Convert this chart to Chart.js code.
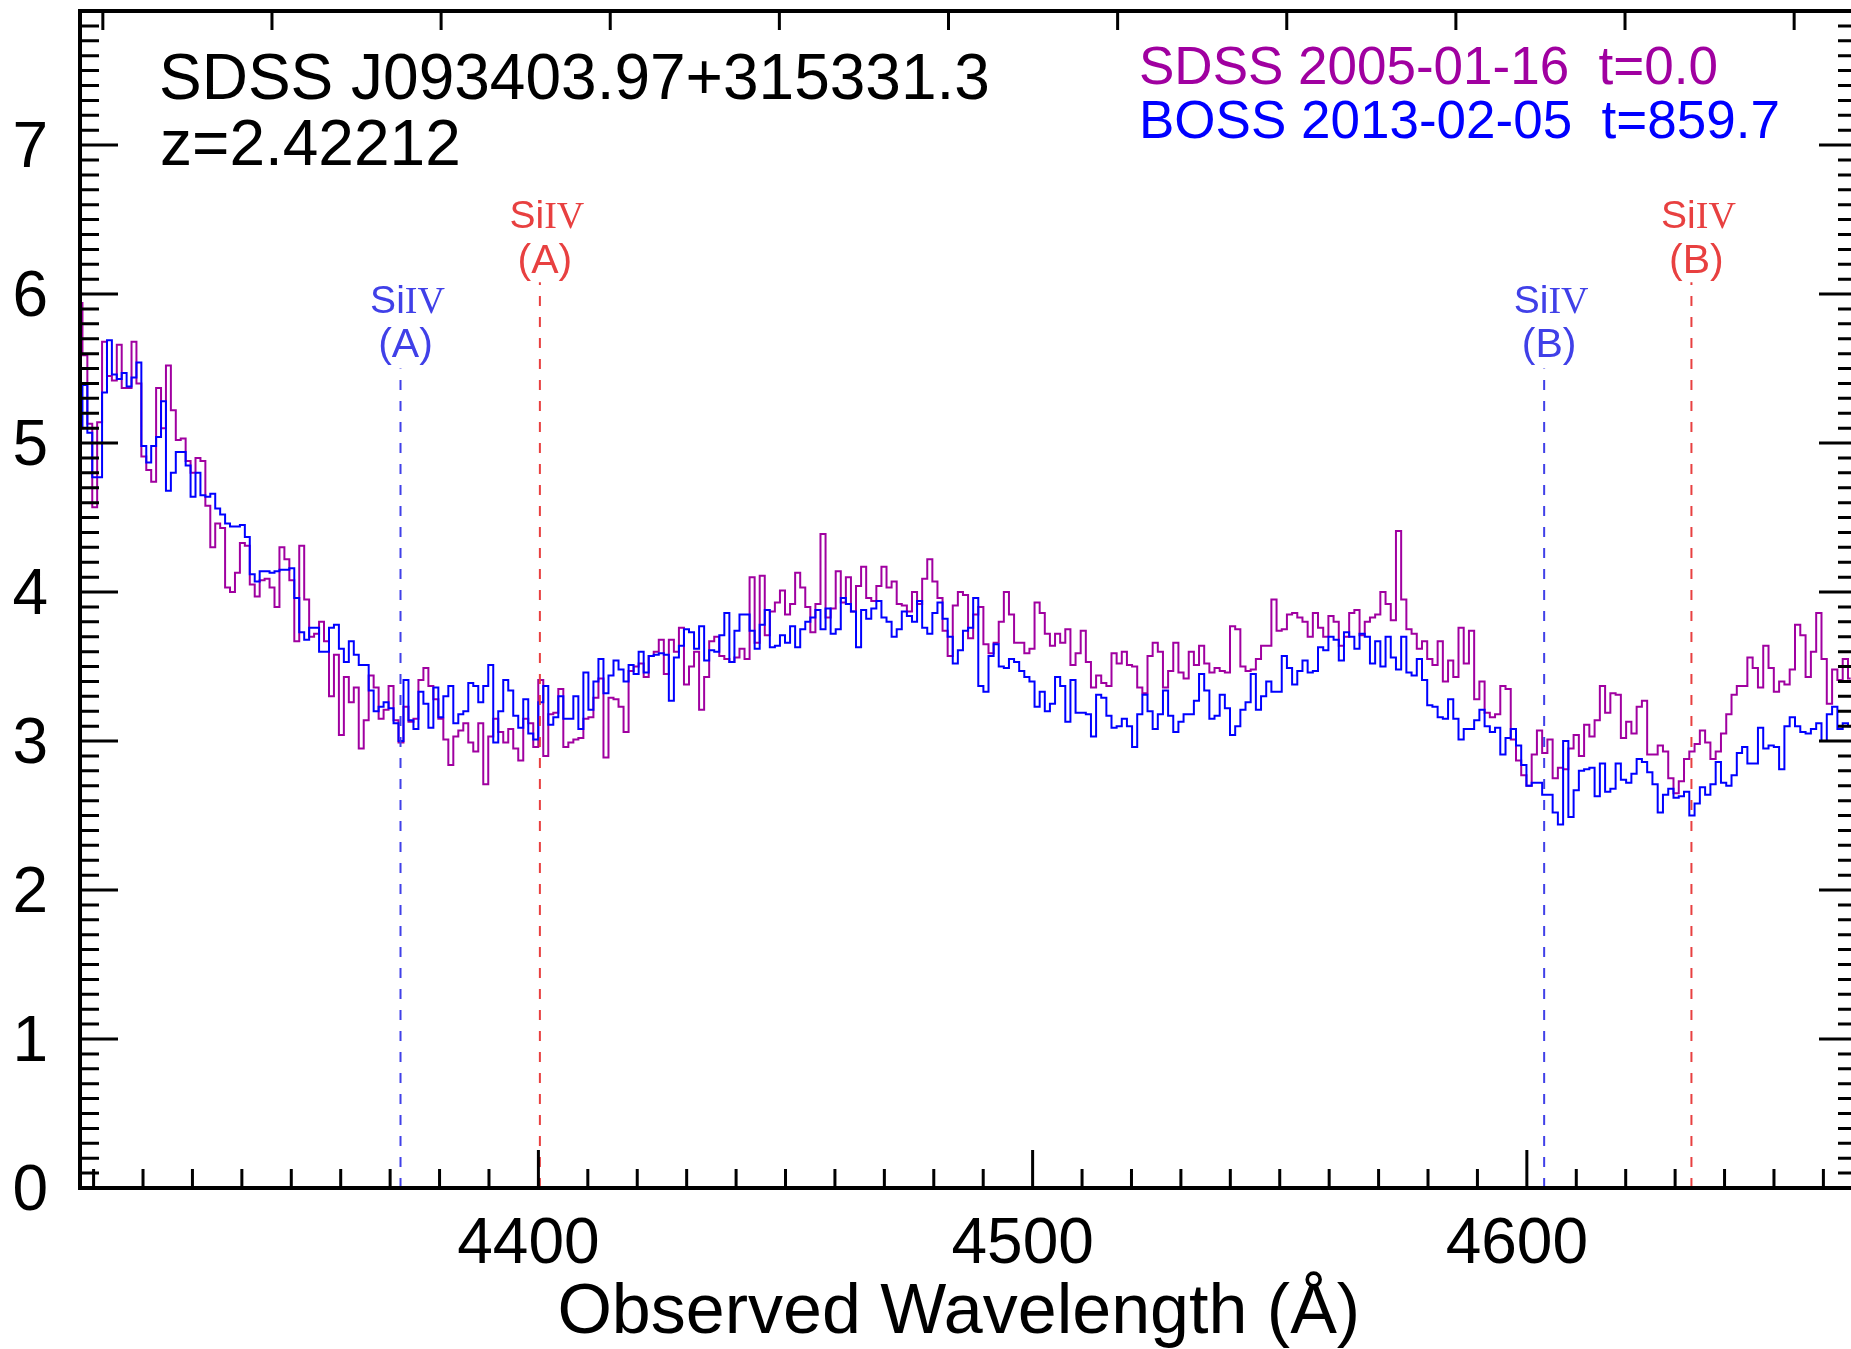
<!DOCTYPE html>
<html>
<head>
<meta charset="utf-8">
<title>SDSS J093403.97+315331.3</title>
<script src="https://cdn.jsdelivr.net/npm/chart.js@4.4.1/dist/chart.umd.min.js"></script>
<style>
  html, body { margin: 0; padding: 0; background: #ffffff; overflow: hidden; }
  #wrap { width: 1860px; height: 1349px; }
</style>
</head>
<body>
<div id="wrap"><canvas id="spec" width="1860" height="1349"></canvas></div>
<script>
// quasar and spectral grid
var redshift = 2.42212;
var logLam0 = 3.6342;   // log10 of the first pixel wavelength
var dLogLam = 0.0001;   // SDSS/BOSS pixel size in log10(lambda)

// flux per pixel
var sdssFlux = [
  5.94, 5.59, 5.13, 4.57, 5.14, 5.68, 5.45, 5.42, 5.66, 5.37, 5.37, 5.68, 5.40, 4.91, 4.82, 4.74,
  5.37, 5.10, 5.52, 5.22, 5.02, 5.03, 4.88, 4.80, 4.90, 4.88, 4.58, 4.30, 4.46, 4.43, 4.03, 4.00,
  4.13, 4.33, 4.31, 4.05, 3.97, 4.08, 4.09, 4.03, 3.90, 4.30, 4.22, 4.08, 3.67, 4.31, 3.95, 3.70,
  3.72, 3.80, 3.67, 3.30, 3.58, 3.04, 3.43, 3.26, 3.36, 2.95, 3.14, 3.44, 3.36,
  3.15, 3.21, 3.37, 3.14, 2.99, 3.23, 3.13, 3.15, 3.41, 3.49, 3.37, 3.28, 3.15, 3.01, 2.84, 3.03,
  3.07, 3.12, 2.99, 2.93, 3.12, 2.71, 3.03, 3.15, 3.06, 2.99, 3.08, 2.95, 2.87, 3.15, 3.12, 2.96,
  3.41, 2.90, 3.18, 3.19, 3.35, 2.96, 2.99, 3.01, 3.02, 3.15, 3.16, 3.29, 3.42, 2.89, 3.29, 3.28,
  3.23, 3.06, 3.47, 3.50, 3.52, 3.43, 3.57, 3.60, 3.68, 3.45,
  3.68, 3.60, 3.76, 3.38, 3.50, 3.60, 3.21, 3.43, 3.67, 3.70, 3.57, 3.55, 3.53, 3.56, 3.62, 3.55,
  4.10, 3.66, 4.11, 3.71, 3.87, 3.93, 4.01, 3.85, 3.92, 4.13, 4.03, 3.90, 3.73, 3.92, 4.39, 3.83,
  3.89, 4.14, 3.93, 4.10, 3.87, 4.04, 4.17, 3.96, 3.94, 4.04, 4.17, 4.03, 4.07, 3.92, 3.91, 3.87,
  4.00, 3.92, 4.09, 4.22, 4.07, 3.96, 3.74, 3.57, 3.91, 4.00,
  3.98, 3.69, 3.85, 3.90, 3.65, 3.59, 3.66, 3.80, 4.00, 3.85, 3.66, 3.66, 3.59, 3.62, 3.93, 3.86,
  3.72, 3.64, 3.72, 3.66, 3.75, 3.51, 3.59, 3.74, 3.53, 3.36, 3.44, 3.39, 3.37, 3.59, 3.52, 3.60,
  3.51, 3.50, 3.36, 3.32, 3.57, 3.66, 3.60, 3.36, 3.47, 3.66, 3.46, 3.42, 3.60, 3.51, 3.64, 3.52,
  3.46, 3.49, 3.47, 3.46, 3.77, 3.75, 3.50,
  3.47, 3.48, 3.55, 3.64, 3.64, 3.95, 3.74, 3.75, 3.85, 3.86, 3.83, 3.80, 3.70, 3.86, 3.76, 3.70,
  3.84, 3.80, 3.64, 3.70, 3.86, 3.88, 3.71, 3.80, 3.83, 3.85, 4.00, 3.92, 3.81, 4.41, 3.95, 3.75,
  3.72, 3.62, 3.67, 3.55, 3.51, 3.67, 3.40, 3.54, 3.43, 3.76, 3.52, 3.74, 3.28, 3.40, 3.19, 3.16,
  3.18, 3.37, 3.35, 3.01, 2.87, 2.77, 2.70,
  2.91, 3.07, 2.92, 3.01, 2.75, 2.82, 2.81, 2.95, 3.04, 2.90, 3.11, 3.03, 3.14, 3.37, 3.19, 3.32,
  3.31, 3.02, 3.13, 3.05, 3.23, 3.27, 2.91, 2.91, 2.97, 2.93, 2.75, 2.65, 2.73, 2.88, 2.93, 2.98,
  3.07, 2.99, 2.88, 2.93, 3.05, 3.18, 3.31, 3.37, 3.37, 3.56, 3.49, 3.36, 3.64, 3.49, 3.33, 3.40,
  3.38, 3.48, 3.78, 3.71, 3.43, 3.60, 3.86, 3.55, 3.25, 3.48, 3.41, 3.55, 3.42
];
var bossFlux = [
  5.10, 5.39, 5.07, 4.77, 4.77, 5.34, 5.69, 5.46, 5.43, 5.47, 5.38, 5.44, 5.54, 4.98, 4.87, 4.98,
  5.04, 5.28, 4.68, 4.80, 4.94, 4.94, 4.85, 4.64, 4.80, 4.65, 4.64, 4.66, 4.56, 4.52, 4.46, 4.44,
  4.44, 4.45, 4.37, 4.12, 4.07, 4.14, 4.14, 4.13, 4.14, 4.15, 4.15, 4.16, 3.96, 3.73, 3.68, 3.76,
  3.76, 3.60, 3.60, 3.76, 3.78, 3.62, 3.53, 3.67, 3.58, 3.51, 3.51, 3.34, 3.20,
  3.23, 3.26, 3.22, 3.12, 3.00, 3.41, 3.14, 3.08, 3.33, 3.25, 3.09, 3.36, 3.16, 3.30, 3.37, 3.12,
  3.18, 3.20, 3.39, 3.37, 3.26, 3.37, 3.51, 2.99, 3.20, 3.41, 3.34, 3.17, 3.09, 3.28, 3.05, 3.01,
  3.26, 3.37, 3.11, 3.16, 3.30, 3.15, 3.15, 3.30, 3.08, 3.46, 3.21, 3.40, 3.55, 3.32, 3.44, 3.54,
  3.48, 3.40, 3.51, 3.45, 3.60, 3.46, 3.57, 3.58, 3.59, 3.58,
  3.27, 3.56, 3.64, 3.75, 3.73, 3.62, 3.77, 3.54, 3.61, 3.60, 3.71, 3.86, 3.53, 3.74, 3.85, 3.85,
  3.74, 3.62, 3.78, 3.88, 3.63, 3.64, 3.71, 3.66, 3.77, 3.63, 3.75, 3.80, 3.83, 3.88, 3.75, 3.89,
  3.72, 3.75, 3.96, 3.92, 3.87, 3.63, 3.88, 3.82, 3.89, 3.94, 3.83, 3.80, 3.70, 3.75, 3.87, 3.84,
  3.80, 3.94, 3.76, 3.72, 3.86, 3.93, 3.82, 3.70, 3.52, 3.61,
  3.74, 3.76, 3.96, 3.37, 3.33, 3.57, 3.65, 3.50, 3.49, 3.55, 3.53, 3.47, 3.43, 3.40, 3.23, 3.33,
  3.20, 3.25, 3.43, 3.37, 3.13, 3.41, 3.19, 3.19, 3.18, 3.03, 3.31, 3.29, 3.17, 3.09, 3.10, 3.15,
  3.10, 2.96, 3.18, 3.31, 3.20, 3.08, 3.18, 3.34, 3.17, 3.06, 3.13, 3.18, 3.18, 3.27, 3.45, 3.34,
  3.15, 3.17, 3.31, 3.22, 3.04, 3.10, 3.21,
  3.26, 3.45, 3.21, 3.30, 3.40, 3.33, 3.33, 3.57, 3.49, 3.38, 3.47, 3.54, 3.46, 3.47, 3.63, 3.61,
  3.70, 3.68, 3.54, 3.73, 3.70, 3.62, 3.72, 3.70, 3.52, 3.67, 3.50, 3.70, 3.56, 3.48, 3.70, 3.46,
  3.44, 3.55, 3.41, 3.24, 3.23, 3.16, 3.15, 3.28, 3.15, 3.01, 3.08, 3.08, 3.14, 3.21, 3.10, 3.06,
  3.09, 2.91, 3.02, 3.08, 2.97, 2.84, 2.70,
  2.72, 2.72, 2.64, 2.64, 2.52, 2.44, 3.00, 2.49, 2.67, 2.80, 2.81, 2.82, 2.63, 2.85, 2.66, 2.68,
  2.85, 2.74, 2.72, 2.78, 2.88, 2.86, 2.79, 2.71, 2.52, 2.64, 2.68, 2.62, 2.63, 2.66, 2.50, 2.58,
  2.69, 2.64, 2.71, 2.86, 2.72, 2.70, 2.77, 2.92, 2.96, 2.85, 2.85, 3.09, 2.95, 2.97, 2.96, 2.81,
  3.10, 3.16, 3.10, 3.06, 3.05, 3.08, 3.12, 3.00, 3.18, 3.23, 3.08, 3.12, 3.10
];

// axes
var xTickLabels = [4400, 4500, 4600];
var yTickLabels = [0, 1, 2, 3, 4, 5, 6, 7];
var restTicks = [1260, 1270, 1280, 1290, 1300, 1310, 1320, 1330, 1340, 1350, 1360]; // top axis, rest frame

// Si IV absorption systems (blue / red member of the doublet)
var siivWave = [4372.1, 4400.3, 4603.5, 4633.3];
var siivSystem = ['(A)', '(A)', '(B)', '(B)'];
var siivMember = ['blue', 'red', 'blue', 'red'];

var SANS = '"Liberation Sans", Arial, Helvetica, sans-serif';
var SERIF = '"Liberation Serif", "Times New Roman", serif';
var MAGENTA = '#a000a0';
var BLUE = '#0000ff';
var LINE_COL = { blue: 'rgb(64,64,232)', red: 'rgb(232,64,64)' };
var LINE_TOP = { blue: 5.50, red: 6.08 };      // where the dashed marker stops
var LABEL_Y = { blue: [5.87, 5.58], red: [6.445, 6.14] };

var wave = sdssFlux.map(function (f, i) { return Math.pow(10, logLam0 + i * dLogLam); });
function toPoints(flux) {
  return flux.map(function (f, i) { return { x: wave[i], y: f }; });
}

var datasets = [
  { label: 'BOSS', data: toPoints(bossFlux), borderColor: BLUE, borderWidth: 2, stepped: 'middle', pointRadius: 0, fill: false, order: 1 },
  { label: 'SDSS', data: toPoints(sdssFlux), borderColor: MAGENTA, borderWidth: 2, stepped: 'middle', pointRadius: 0, fill: false, order: 2 }
];
siivWave.forEach(function (w, i) {
  var m = siivMember[i];
  datasets.push({
    label: 'SiIV ' + siivSystem[i],
    data: [{ x: w, y: 0 }, { x: w, y: LINE_TOP[m] }],
    borderColor: LINE_COL[m], borderWidth: 2, borderDash: [10, 11],
    pointRadius: 0, fill: false, order: 0
  });
});

// the scales must not reserve room for half a label at their ends
function noEndPadding(axis) {
  axis.paddingTop = 0; axis.paddingBottom = 0;
  axis.paddingLeft = 0; axis.paddingRight = 0;
}

// box, inward ticks and the text annotations
var frame = {
  id: 'frame',
  afterDatasetsDraw: function (chart) {
    var c = chart.ctx, a = chart.chartArea;
    var xs = chart.scales.x, ys = chart.scales.y;
    c.save();
    c.strokeStyle = '#000';
    c.lineWidth = 3;
    c.beginPath();
    // y ticks on both sides
    for (var k = 0; k <= 79; k++) {
      var py = ys.getPixelForValue(k / 10);
      var len = (k % 10 === 0) ? 38 : 19;
      c.moveTo(a.left, py); c.lineTo(a.left + len, py);
      c.moveTo(a.right, py); c.lineTo(a.right - len, py);
    }
    // bottom ticks every 10 A
    for (var w = 4310; w < xs.max; w += 10) {
      var px = xs.getPixelForValue(w);
      var l2 = (w % 100 === 0) ? 38 : 19;
      c.moveTo(px, a.bottom); c.lineTo(px, a.bottom - l2);
    }
    // top ticks: rest-frame wavelength
    restTicks.forEach(function (r) {
      var px = xs.getPixelForValue(r * (1 + redshift));
      c.moveTo(px, a.top); c.lineTo(px, a.top + 19);
    });
    c.stroke();
    c.lineWidth = 4;
    c.strokeRect(a.left, a.top, a.right - a.left, a.bottom - a.top);
    c.restore();
  },
  afterDraw: function (chart) {
    var c = chart.ctx;
    var xs = chart.scales.x, ys = chart.scales.y;
    c.save();
    c.textAlign = 'left';
    c.textBaseline = 'alphabetic';
    c.fillStyle = '#000';
    c.font = '64px ' + SANS;
    c.fillText('SDSS J093403.97+315331.3', 159, 99);
    c.fillText('z=' + redshift.toFixed(5), 160, 165);
    c.font = '53px ' + SANS;
    c.fillStyle = MAGENTA;
    c.fillText('SDSS 2005-01-16  t=0.0', 1139, 84);
    c.fillStyle = BLUE;
    c.fillText('BOSS 2013-02-05  t=859.7', 1139, 138);

    siivWave.forEach(function (w, i) {
      var m = siivMember[i];
      var px = xs.getPixelForValue(w);
      var y1 = ys.getPixelForValue(LABEL_Y[m][0]);
      var y2 = ys.getPixelForValue(LABEL_Y[m][1]);
      c.fillStyle = LINE_COL[m];
      c.font = '39px ' + SANS;
      var w1 = c.measureText('Si').width;
      c.font = '38px ' + SERIF;
      var w2 = c.measureText('IV').width;
      var x0 = px + 7 - (w1 + w2) / 2;
      c.textAlign = 'left';
      c.font = '39px ' + SANS;
      c.fillText('Si', x0, y1);
      c.font = '38px ' + SERIF;
      c.fillText('IV', x0 + w1, y1);
      c.textAlign = 'center';
      c.font = '41px ' + SANS;
      c.fillText(siivSystem[i], px + 5, y2);
    });
    c.restore();
  }
};

var ctx = document.getElementById('spec');
var myChart = new Chart(ctx, {
  type: 'line',
  data: { datasets: datasets },
  options: {
    responsive: false,
    animation: false,
    layout: { padding: { left: 0, top: 11, right: 3, bottom: 0 } },
    plugins: { legend: { display: false }, tooltip: { enabled: false } },
    scales: {
      x: {
        type: 'linear',
        min: wave[0],
        max: 4666.8,
        grid: { display: false },
        border: { display: false },
        afterBuildTicks: function (axis) { axis.ticks = xTickLabels.map(function (v) { return { value: v }; }); },
        afterFit: function (axis) { axis.height = 161; noEndPadding(axis); },
        ticks: {
          autoSkip: false, maxRotation: 0, padding: 11, labelOffset: -10,
          color: '#000', font: { family: SANS, size: 64 },
          callback: function (v) { return String(v); }
        },
        title: {
          display: true, text: 'Observed Wavelength (Å) ', color: '#000',
          font: { family: SANS, size: 70, lineHeight: 1 }, padding: { top: 0, bottom: 0 }
        }
      },
      y: {
        type: 'linear',
        min: 0,
        max: 7.9,
        grid: { display: false },
        border: { display: false },
        afterBuildTicks: function (axis) { axis.ticks = yTickLabels.map(function (v) { return { value: v }; }); },
        afterFit: function (axis) { axis.width = 80; noEndPadding(axis); },
        ticks: {
          autoSkip: false, padding: 24, labelOffset: 4,
          color: '#000', font: { family: SANS, size: 64 },
          callback: function (v) { return String(v); }
        }
      }
    }
  },
  plugins: [frame]
});
</script>
</body>
</html>
